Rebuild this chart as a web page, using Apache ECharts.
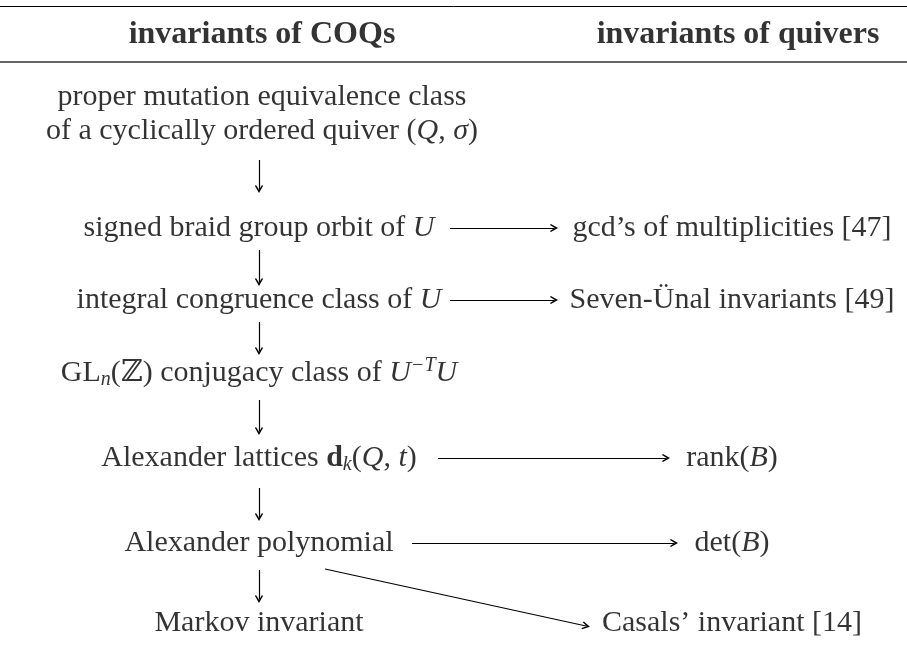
<!DOCTYPE html>
<html>
<head>
<meta charset="utf-8">
<title>invariants of COQs</title>
<script src="https://cdn.jsdelivr.net/npm/echarts@6/dist/echarts.min.js"></script>
<style>
  html, body { margin: 0; padding: 0; background: #fff; }
  #main { width: 907px; height: 664px; }
</style>
</head>
<body>
<div id="main"></div>
<script>
// diagram units = one unit per pixel of the 907x664 page

// column headers
const headerText = ['invariants of COQs', 'invariants of quivers'];
const headerX = [262, 738];
const headerY = [35, 35];

// horizontal rules (y) and their weights
const ruleY = [6, 62];
const ruleWidth = [1, 1.6];

// nodes of the diagram, rich text tags: i = italic, b = bold, sub / sup
const nodeText = [
  'proper mutation equivalence class\nof a cyclically ordered quiver ({i|Q}, {i|σ})',
  'signed braid group orbit of {i|U}',
  'gcd’s of multiplicities [47]',
  'integral congruence class of {i|U}',
  'Seven-Ünal invariants [49]',
  'GL{sub|n}(ℤ) conjugacy class of {i|U}{sup|−T}{i|U}',
  'Alexander lattices {b|d}{sub|k}({i|Q}, {i|t})',
  'rank({i|B})',
  'Alexander polynomial',
  'det({i|B})',
  'Markov invariant',
  'Casals’ invariant [14]'
];
const nodeX = [262, 259, 732, 259, 732, 259, 259, 732, 259, 732, 259, 732];
const nodeY = [114, 228, 228, 300, 300, 373, 458, 458, 543, 543, 623, 623];

// arrows: start and end points
const arrowX1 = [259, 450, 259, 450, 259, 259, 438, 259, 412, 259, 325];
const arrowY1 = [160, 228, 250, 300, 322, 400, 458, 488, 543, 570, 569];
const arrowX2 = [259, 554, 259, 554, 259, 259, 666, 259, 674, 259, 586];
const arrowY2 = [189, 228, 282, 300, 351, 431, 458, 517, 543, 599, 626];

const serif = '"Liberation Serif", "DejaVu Serif", serif';
// open chevron head, tip at the top of the path
const arrowHead = 'path://M5 0 L10 8 L8.8 9 L5 3.6 L1.2 9 L0 8 Z';

const rich = {
  i: { fontStyle: 'italic', fontSize: 30, fontFamily: serif, color: '#000' },
  b: { fontWeight: 'bold', fontSize: 30, fontFamily: serif, color: '#000' },
  sub: { fontStyle: 'italic', fontSize: 20, fontFamily: serif, color: '#000', verticalAlign: 'bottom', lineHeight: 20 },
  sup: { fontStyle: 'italic', fontSize: 20, fontFamily: serif, color: '#000', verticalAlign: 'top', lineHeight: 20 }
};

const chart = echarts.init(document.getElementById('main'), null, { renderer: 'canvas' });

chart.setOption({
  animation: false,
  backgroundColor: '#fff',
  grid: { left: 0, right: 0, top: 0, bottom: 0 },
  xAxis: { type: 'value', min: 0, max: 907, show: false },
  yAxis: { type: 'value', min: 0, max: 664, inverse: true, show: false },
  series: [
    {
      name: 'rules',
      type: 'lines',
      coordinateSystem: 'cartesian2d',
      symbol: ['none', 'none'],
      data: ruleY.map((y, i) => ({
        coords: [[0, y], [907, y]],
        lineStyle: { width: ruleWidth[i], color: i === 0 ? '#000' : '#333' }
      })),
      lineStyle: { opacity: 1 }
    },
    {
      name: 'headers',
      type: 'scatter',
      symbolSize: 0,
      data: headerText.map((t, i) => ({ name: t, value: [headerX[i], headerY[i]] })),
      label: {
        show: true,
        position: 'inside',
        formatter: '{b}',
        fontFamily: serif,
        fontWeight: 'bold',
        fontSize: 32,
        color: '#000'
      }
    },
    {
      name: 'nodes',
      type: 'scatter',
      symbolSize: 0,
      data: nodeText.map((t, i) => ({ name: t, value: [nodeX[i], nodeY[i]] })),
      label: {
        show: true,
        position: 'inside',
        align: 'center',
        verticalAlign: 'middle',
        formatter: (p) => p.name,
        fontFamily: serif,
        fontSize: 30,
        lineHeight: 34,
        color: '#000',
        rich: rich
      }
    },
    {
      name: 'arrows',
      type: 'lines',
      coordinateSystem: 'cartesian2d',
      symbol: ['none', arrowHead],
      symbolSize: [9, 8],
      lineStyle: { color: '#000', width: 1.2, opacity: 1 },
      data: arrowX1.map((x, i) => ({
        coords: [[x, arrowY1[i]], [arrowX2[i], arrowY2[i]]]
      }))
    }
  ]
});
</script>
</body>
</html>
